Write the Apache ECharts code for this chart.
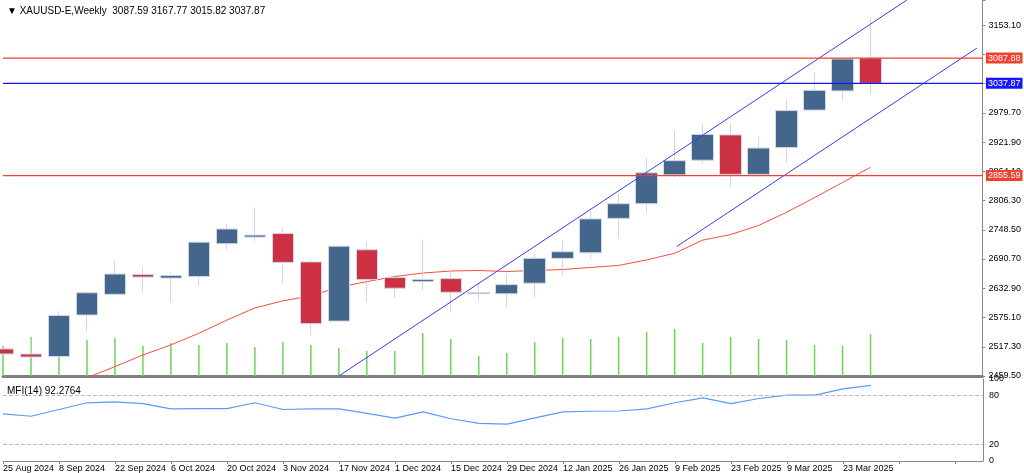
<!DOCTYPE html>
<html lang="en">
<head>
<meta charset="UTF-8" />
<title>XAUUSD-E Weekly</title>
<script src="https://cdn.jsdelivr.net/npm/echarts@6/dist/echarts.min.js"></script>
<style>html,body{margin:0;padding:0;background:#fff;overflow:hidden}</style>
</head>
<body>
<div id="main" style="width:1024px;height:473px;"></div>
<script type="text/javascript">
// weekly candles, 25 Aug 2024 .. 30 Mar 2025, plus empty slots to the right
var weeks = ['25 Aug 2024','1 Sep 2024','8 Sep 2024','15 Sep 2024','22 Sep 2024','29 Sep 2024','6 Oct 2024','13 Oct 2024',
  '20 Oct 2024','27 Oct 2024','3 Nov 2024','10 Nov 2024','17 Nov 2024','24 Nov 2024','1 Dec 2024','8 Dec 2024',
  '15 Dec 2024','22 Dec 2024','29 Dec 2024','5 Jan 2025','12 Jan 2025','19 Jan 2025','26 Jan 2025','2 Feb 2025',
  '9 Feb 2025','16 Feb 2025','23 Feb 2025','2 Mar 2025','9 Mar 2025','16 Mar 2025','23 Mar 2025','30 Mar 2025','','','','']
// [open, close, low, high]
var ohlc = [
  [2513,2503,2501,2516],[2503,2497,2497,2532],[2498,2579,2497,2588],[2580,2624,2547,2628],
  [2621,2661,2616,2688],[2660,2655,2627,2674],[2653,2658,2605,2664],[2656,2724,2638,2726],
  [2721,2750,2709,2760],[2734,2738,2726,2792],[2741,2684,2643,2752],[2685,2563,2539,2689],
  [2568,2716,2566,2719],[2709,2650,2606,2724],[2654,2633,2614,2659],[2646,2650,2628,2729],
  [2652,2625,2585,2668],[2622,2624,2608,2643],[2622,2640,2596,2662],[2643,2692,2615,2701],
  [2692,2705,2658,2727],[2703,2770,2691,2786],[2771,2800,2731,2820],[2800,2861,2782,2892],
  [2857,2885,2852,2945],[2886,2937,2879,2957],[2936,2858,2834,2959],[2858,2910,2854,2933],
  [2911,2984,2882,3005],[2985,3024,2983,3060],[3023,3086,3003,3088],[3087.59,3037.87,3015.82,3167.77]
]
var ma = [null,null,null,2456,2478,2501,2521,2544,2570,2594,2608,2618,2635,2646,2656,2663,2667,2668,2666,2668,
  2670,2674,2678,2689,2702,2728,2739,2757,2783,2812,2842,2872]
var volume = [30,39,35,36,38,30,33,31,33,29,34,31,28,25,25,43,37,20,23,34,38,37,39,44,47,33,39,37,36,31,30,42]
var mfi = [57.5,54.6,62.8,71,72.2,70,63.6,63.8,63.8,71,62.8,63.6,63.6,58,52.3,60,51.5,45.8,45,52.6,
  60,60.7,61,63.6,71,77,70,76.2,80.3,80.3,88,92.3]
// trend channel: [week index, price]
var channelUpper = [[12.0,2459.5],[32.3,3202.6]]
var channelLower = [[24.07,2715.3],[34.8,3107.5]]
var levels = [
  { value: 3087.88, color: '#f0402f' },
  { value: 3037.87, color: '#1515ff' },
  { value: 2855.59, color: '#f0402f' }
]
var hiddenTicks = ['3095.30','3037.50']

var myChart = echarts.init(document.getElementById('main'))
var font = 'Liberation Sans'
var up = '#44658c', down = '#cc3042'

var candleData = ohlc.map(function (d) {
  var c = d[1] >= d[0] ? up : down
  return { value: d, itemStyle: { color: c, color0: c, borderColor: '#cfd8e3', borderColor0: '#e8c0c4' } }
})

// one series per horizontal level, so each keeps its own colour
var levelSeries = levels.map(function (l) {
  return { type: 'line', xAxisIndex: 0, yAxisIndex: 0, z: 5, showSymbol: false,
    data: weeks.map(function () { return l.value }),
    lineStyle: { color: l.color, width: 1.2 } }
})
// price tags on the right axis
var levelTags = levels.map(function (l) {
  return { type: 'scatter', xAxisIndex: 2, yAxisIndex: 0, z: 20, zlevel: 1, symbolSize: 1,
    itemStyle: { color: l.color, opacity: 1 },
    data: [[35, l.value]],
    label: { show: true, position: 'right', distance: 3, formatter: l.value.toFixed(2), opacity: 1,
      color: '#ffffff', fontSize: 9, backgroundColor: l.color, padding: [1, 2] } }
})

var option = {
  animation: false,
  textStyle: { fontFamily: font },
  title: [
    { text: '\u25BC XAUUSD-E,Weekly  3087.59 3167.77 3015.82 3037.87', left: 2, top: 1,
      textStyle: { fontSize: 10, fontWeight: 'normal', color: '#000', fontFamily: font } },
    { text: 'MFI(14) 92.2764', left: 2, top: 381,
      textStyle: { fontSize: 10, fontWeight: 'normal', color: '#000', fontFamily: font } }
  ],
  grid: [
    { left: 3, right: 41, top: 0, height: 376 },
    { left: 3, right: 41, top: 379, height: 82 }
  ],
  xAxis: [
    { type: 'category', gridIndex: 0, data: weeks, boundaryGap: false,
      axisLine: { show: true, onZero: false, lineStyle: { color: '#808080', width: 3 } },
      axisTick: { show: false }, axisLabel: { show: false } },
    { type: 'category', gridIndex: 1, data: weeks, boundaryGap: false,
      axisLine: { show: true, onZero: false, lineStyle: { color: '#888' } },
      axisTick: { show: true, interval: 1, length: 3, lineStyle: { color: '#888' } },
      axisLabel: { interval: 1, align: 'left', fontSize: 9, color: '#000', margin: 3 } },
    { type: 'value', gridIndex: 0, min: 0, max: 35, show: false }
  ],
  yAxis: [
    { type: 'value', gridIndex: 0, position: 'right', min: 2459.5, max: 3202.6, interval: 57.8,
      splitLine: { show: false },
      axisLine: { show: true, onZero: false, lineStyle: { color: '#888' } },
      axisTick: { show: true, length: 3, lineStyle: { color: '#888' } },
      axisLabel: { fontSize: 9, color: '#000', margin: 6,
        formatter: function (v) {
          var s = v.toFixed(2)
          if (v > 3200) return ''
          return hiddenTicks.indexOf(s) >= 0 ? '' : s
        } } },
    { type: 'value', gridIndex: 0, min: 0, max: 376, show: false, axisLine: { onZero: false } },
    { type: 'value', gridIndex: 1, position: 'right', min: 0, max: 100, interval: 20,
      splitLine: { show: false },
      axisLine: { show: true, onZero: false, lineStyle: { color: '#888' } },
      axisTick: { show: false },
      axisLabel: { fontSize: 9, color: '#000', margin: 6,
        formatter: function (v) { return (v === 40 || v === 60) ? '' : String(v) } } }
  ],
  series: [
    { type: 'bar', xAxisIndex: 0, yAxisIndex: 1, data: volume, barWidth: 1.5,
      itemStyle: { color: '#6fd35a' }, z: 1 },
    { type: 'candlestick', xAxisIndex: 0, yAxisIndex: 0, data: candleData, barWidth: 22, z: 3 },
    { type: 'line', xAxisIndex: 0, yAxisIndex: 0, data: ma, showSymbol: false,
      lineStyle: { color: '#f0503c', width: 1 }, z: 2 },
    { type: 'line', xAxisIndex: 2, yAxisIndex: 0, data: channelUpper, showSymbol: false,
      lineStyle: { color: '#3a3af0', width: 1 }, z: 4 },
    { type: 'line', xAxisIndex: 2, yAxisIndex: 0, data: channelLower, showSymbol: false,
      lineStyle: { color: '#3a3af0', width: 1 }, z: 4 },
    { type: 'line', xAxisIndex: 1, yAxisIndex: 2, data: mfi, showSymbol: false,
      lineStyle: { color: '#5a9cf5', width: 1.2 },
      markLine: { symbol: 'none', silent: true, label: { show: false },
        lineStyle: { color: '#bbb', type: 'dashed', width: 1 },
        data: [{ yAxis: 80 }, { yAxis: 20 }] } }
  ].concat(levelSeries, levelTags)
}

myChart.setOption(option)
</script>
</body>
</html>
